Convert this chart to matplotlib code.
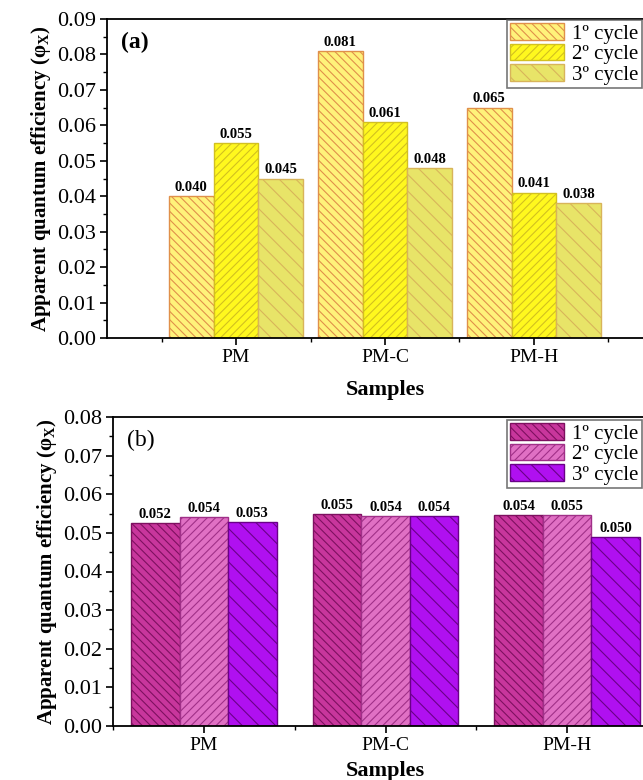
import numpy as np
import matplotlib
matplotlib.use("Agg")
import matplotlib.pyplot as plt

samples = ["PM", "PM-C", "PM-H"]
cycles = ["1º cycle", "2º cycle", "3º cycle"]

# panel (a)
aqe_a = [
    [0.040, 0.081, 0.065],  # 1º cycle
    [0.055, 0.061, 0.041],  # 2º cycle
    [0.045, 0.048, 0.038],  # 3º cycle
]
labels_a = [
    ["0.040", "0.081", "0.065"],
    ["0.055", "0.061", "0.041"],
    ["0.045", "0.048", "0.038"],
]

# panel (b)
aqe_b = [
    [0.0525, 0.0549, 0.0546],
    [0.0540, 0.0544, 0.0547],
    [0.0528, 0.0544, 0.0490],
]
labels_b = [
    ["0.052", "0.055", "0.054"],
    ["0.054", "0.054", "0.055"],
    ["0.053", "0.054", "0.050"],
]

plt.rcParams["font.family"] = ["Liberation Serif", "DejaVu Serif"]
plt.rcParams["hatch.linewidth"] = 0.8
plt.rcParams["axes.linewidth"] = 1.3
plt.rcParams["mathtext.fontset"] = "custom"
plt.rcParams["mathtext.rm"] = "Liberation Serif:bold"
plt.rcParams["mathtext.it"] = "Liberation Serif:bold"

fig = plt.figure(figsize=(6.43, 7.8), dpi=100)


def draw_panel(ax, values, labels, width, fills, hatch_cols, hatches, ymax, tag,
               tag_weight, xlim, leg_top, xpad):
    x = np.arange(1, len(samples) + 1)
    for i in range(3):
        pos = x + (i - 1) * width
        ax.bar(pos, values[i], width, color=fills[i], edgecolor=hatch_cols[i],
               hatch=hatches[i], linewidth=1.0, label=cycles[i])
        for p, v, t in zip(pos, values[i], labels[i]):
            ax.text(p, v + ymax * 0.007, t, ha="center", va="bottom",
                    fontsize=10.5, fontweight="bold")
    ax.set_xlim(*xlim)
    ax.set_ylim(0, ymax)
    ax.set_xticks(x)
    ax.set_xticklabels(samples)
    ax.set_xticks(np.arange(0.5, 4.0, 1.0), minor=True)
    ax.set_yticks(np.arange(0, ymax + 0.001, 0.01))
    ax.set_yticks(np.arange(0, ymax + 0.001, 0.005), minor=True)
    ax.yaxis.set_major_formatter(matplotlib.ticker.FormatStrFormatter("%.2f"))
    ax.tick_params(which="major", length=5, width=1.2, labelsize=16, pad=3)
    ax.tick_params(which="minor", length=3, width=1.0)
    ax.tick_params(axis="x", labelsize=14)
    ax.set_xlabel("Samples", fontsize=16, fontweight="bold", labelpad=xpad)
    ax.set_ylabel(r"Apparent quantum efficiency ($\varphi_X$)", fontsize=15,
                  fontweight="bold", labelpad=3)
    ax.text(0.025, 0.925, tag, transform=ax.transAxes, fontsize=17,
            fontweight=tag_weight, ha="left", va="center")
    leg = ax.legend(loc="upper right", bbox_to_anchor=(642 / 643, leg_top),
                    bbox_transform=fig.transFigure, fontsize=15, frameon=True,
                    fancybox=False, edgecolor="#555555", handlelength=2.6,
                    handleheight=0.85, borderpad=0.15, labelspacing=0.0,
                    handletextpad=0.4, borderaxespad=0.0)
    leg.get_frame().set_linewidth(1.2)


ax1 = fig.add_axes([107 / 643, 1 - 338 / 780, 556 / 643, 319 / 780])
draw_panel(ax1, aqe_a, labels_a, 0.3,
           ["#FFF27A", "#FFF81E", "#E8E468"],
           ["#E0904A", "#D2C020", "#D8B45A"],
           ["\\\\\\\\", "////", "\\\\"],
           0.09, "(a)", "bold", (0.134, 3.866), 1 - 20 / 780, 10)

ax2 = fig.add_axes([113 / 643, 1 - 726 / 780, 545 / 643, 309 / 780])
draw_panel(ax2, aqe_b, labels_b, 0.267,
           ["#C8369C", "#E070C4", "#B010F0"],
           ["#7E1060", "#A03088", "#6A0088"],
           ["\\\\\\\\", "////", "\\\\"],
           0.08, "(b)", "normal", (0.514, 3.486), 1 - 420 / 780, 5)

fig.savefig("out.png", dpi=100)
